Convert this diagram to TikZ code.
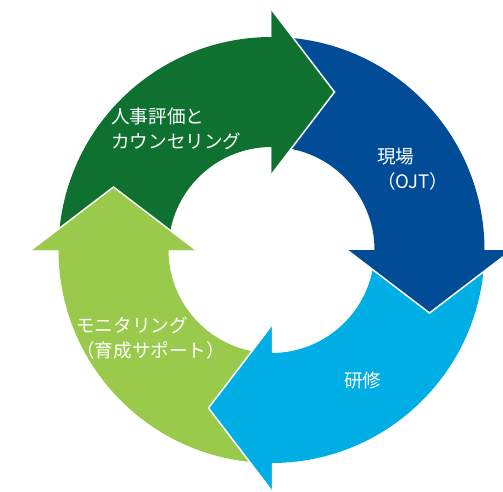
\documentclass[tikz,border=0pt]{standalone}
\usepackage{fontspec}
\newfontfamily\jpfont{Noto Sans CJK JP}
\usetikzlibrary{calc}
\definecolor{cgreen}{RGB}{14,113,48}
\definecolor{cblue}{RGB}{0,76,151}
\definecolor{clblue}{RGB}{0,174,230}
\definecolor{clgreen}{RGB}{154,202,75}
\tikzset{
  lbl/.style={text=white, font=\jpfont\fontsize{18.6}{25}\selectfont, align=left, inner sep=0pt, anchor=west},
  headedge/.style={white, line width=1.5pt, line join=miter}
}
\newcommand{\Rout}{213}
\newcommand{\Rin}{103}
\begin{document}
\begin{tikzpicture}[x=1pt,y=1pt]
\useasboundingbox (0,0) rectangle (503,491);
\clip (0,0) rectangle (503,491);
\coordinate (C) at (271.5,241);
% head points
\coordinate (gA) at ($(C)+(90:240.5)$);
\coordinate (gB) at ($(C)+(90:75.5)$);
\coordinate (gT) at ($(C)+(90:158)+(0:63)$);
\coordinate (bA) at ($(C)+(0:240.5)$);
\coordinate (bB) at ($(C)+(0:75.5)$);
\coordinate (bT) at ($(C)+(0:158)+(-90:63)$);
\coordinate (lbA) at ($(C)+(-90:240.5)$);
\coordinate (lbB) at ($(C)+(-90:75.5)$);
\coordinate (lbT) at ($(C)+(-90:158)+(180:63)$);
\coordinate (lgA) at ($(C)+(180:240.5)$);
\coordinate (lgB) at ($(C)+(180:75.5)$);
\coordinate (lgT) at ($(C)+(180:158)+(90:63)$);
% bodies with heads as one shape (tails start just under the previous head)
\fill[cgreen] ($(C)+(178:\Rout)$) arc[start angle=178,end angle=90,radius=\Rout] -- (gA) -- (gT) -- (gB) -- ($(C)+(90:\Rin)$) arc[start angle=90,end angle=178,radius=\Rin] -- cycle;
\fill[cblue] ($(C)+(88:\Rout)$) arc[start angle=88,end angle=0,radius=\Rout] -- (bA) -- (bT) -- (bB) -- ($(C)+(0:\Rin)$) arc[start angle=0,end angle=88,radius=\Rin] -- cycle;
\fill[clblue] ($(C)+(-2:\Rout)$) arc[start angle=-2,end angle=-90,radius=\Rout] -- (lbA) -- (lbT) -- (lbB) -- ($(C)+(-90:\Rin)$) arc[start angle=-90,end angle=-2,radius=\Rin] -- cycle;
\fill[clgreen] ($(C)+(-92:\Rout)$) arc[start angle=-92,end angle=-180,radius=\Rout] -- (lgA) -- (lgT) -- (lgB) -- ($(C)+(-180:\Rin)$) arc[start angle=-180,end angle=-92,radius=\Rin] -- cycle;
% heads again on top of the next tail
\fill[cgreen] (gA) -- (gT) -- (gB) -- cycle;
\draw[headedge] (gA) -- (gT) -- (gB);
\fill[cblue] (bA) -- (bT) -- (bB) -- cycle;
\draw[headedge] (bA) -- (bT) -- (bB);
\fill[clblue] (lbA) -- (lbT) -- (lbB) -- cycle;
\draw[headedge] (lbA) -- (lbT) -- (lbB);
\fill[clgreen] (lgA) -- (lgT) -- (lgB) -- cycle;
\draw[headedge] (lgA) -- (lgT) -- (lgB);
% labels
\node[lbl] (t1) at (111,362.5) {人事評価と\\カウンセリング};
\node[lbl] (t2) at (377,321.5) {現場\\（OJT）};
\node[lbl] (t3) at (344,111) {研修};
\node[lbl] (t4) at (76,152.5) {モニタリング\\（育成サポート）};
\end{tikzpicture}
\end{document}
